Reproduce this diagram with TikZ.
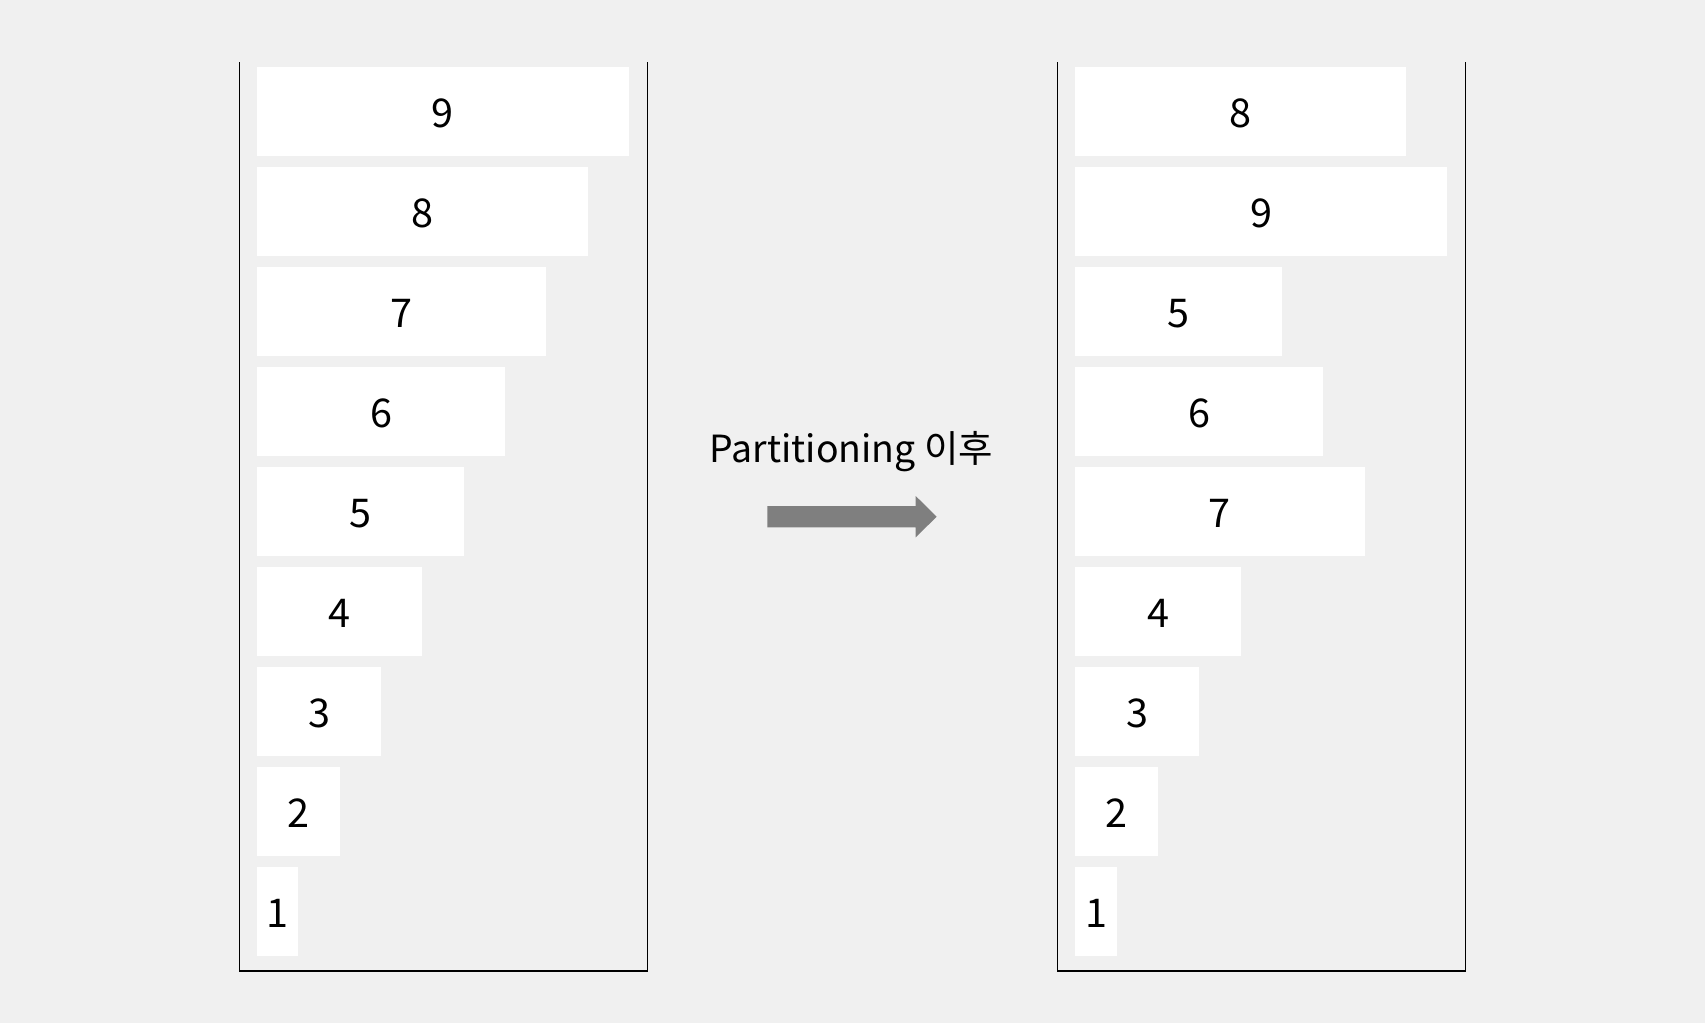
\documentclass[tikz,border=0pt]{standalone}
\usepackage{fontspec}
\setmainfont{Noto Sans CJK KR}
\usepackage{xcolor}
\usepackage{tikz}

\definecolor{bggray}{HTML}{F0F0F0}
\definecolor{arrowgray}{HTML}{7F7F7F}
\tikzset{
	bar/.style={fill=white, anchor=north west, inner sep=0pt,
		minimum height=44.65pt, minimum width=#1*20.65pt,
		text height=16pt, text depth=0pt,
		font=\fontsize{19.8}{23}\selectfont},
	bin/.style={line width=0.6pt},
}

\begin{document}
\begin{tikzpicture}[x=0.5pt,y=-0.5pt]
			\fill[bggray] (0,0) rectangle (1705,1023);
			\useasboundingbox (0,0) rectangle (1705,1023);
			\draw[bin] (239.5,62.3) -- (239.5,971) -- (647.7,971) -- (647.7,62.3);
			\draw[bin] (1057.3,62.3) -- (1057.3,971) -- (1465.3,971) -- (1465.3,62.3);
			\node[bar=9] (l9) at (256.7,66.7) {9};
			\node[bar=8] (l8) at (256.7,166.7) {8};
			\node[bar=7] (l7) at (256.7,266.7) {7};
			\node[bar=6] (l6) at (256.7,366.7) {6};
			\node[bar=5] (l5) at (256.7,466.7) {5};
			\node[bar=4] (l4) at (256.7,566.7) {4};
			\node[bar=3] (l3) at (256.7,666.7) {3};
			\node[bar=2] (l2) at (256.7,766.7) {2};
			\node[bar=1] (l1) at (256.7,866.7) {1};
			\node[bar=8] (r8) at (1075,66.7) {8};
			\node[bar=9] (r9) at (1075,166.7) {9};
			\node[bar=5] (r5) at (1075,266.7) {5};
			\node[bar=6] (r6) at (1075,366.7) {6};
			\node[bar=7] (r7) at (1075,466.7) {7};
			\node[bar=4] (r4) at (1075,566.7) {4};
			\node[bar=3] (r3) at (1075,666.7) {3};
			\node[bar=2] (r2) at (1075,766.7) {2};
			\node[bar=1] (r1) at (1075,866.7) {1};
			\node[anchor=base, inner sep=0pt, font=\fontsize{18.7}{23}\selectfont] (lbl) at (851.5,462.3) {Partitioning 이후};
			\fill[arrowgray] (767.3,506) -- (915.7,506) -- (915.7,496) -- (936.7,516.7)
				-- (915.7,537.3) -- (915.7,527.3) -- (767.3,527.3) -- cycle;
\end{tikzpicture}
\end{document}
